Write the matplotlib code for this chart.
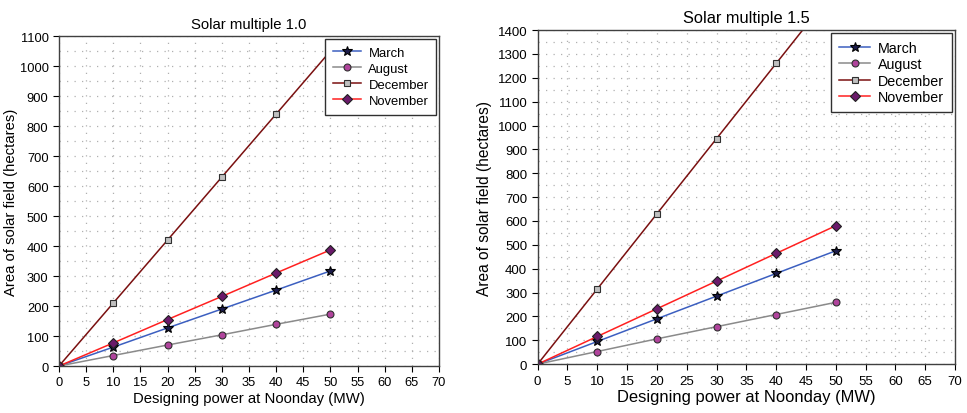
import matplotlib
matplotlib.use("Agg")
import matplotlib.pyplot as plt
from matplotlib.ticker import MultipleLocator

plt.rcParams['font.family'] = ['Liberation Sans', 'DejaVu Sans']

power = [0, 10, 20, 30, 40, 50]

# Solar multiple 1.0
sm10_march = [0, 63, 127, 190, 253, 317]
sm10_august = [0, 35, 70, 104, 139, 173]
sm10_december = [0, 210, 420, 630, 840, 1050]
sm10_november = [0, 77, 155, 232, 310, 387]

# Solar multiple 1.5
sm15_march = [0, 95, 190, 285, 380, 475]
sm15_august = [0, 53, 106, 157, 208, 259]
sm15_december = [0, 315, 630, 945, 1260, 1575]
sm15_november = [0, 116, 232, 348, 464, 580]

titles = ["Solar multiple 1.0", "Solar multiple 1.5"]
series_names = ["March", "August", "December", "November"]

styles = [
    dict(color="#3c5fc0", marker="*", mfc="#1c1c4a", mec="black", ms=7.5, lw=1.1),
    dict(color="#8a8a8a", marker="o", mfc="#b0449c", mec="#303030", ms=5, lw=1.1),
    dict(color="#7a1010", marker="s", mfc="#c0c0c0", mec="#303030", ms=4.8, lw=1.1),
    dict(color="#ff2020", marker="D", mfc="#6a1a6a", mec="#202020", ms=5, lw=1.1),
]

fig = plt.figure(figsize=(9.67, 4.14), dpi=100)
ax1 = fig.add_axes([0.061, 0.1135, 0.393, 0.797])
ax2 = fig.add_axes([0.556, 0.118, 0.4316, 0.807])

configs = [
    (ax1, [sm10_march, sm10_august, sm10_december, sm10_november], 1100,
     dict(title=10.7, xlabel=10.7, ylabel=10.7, tick=9.3, legend=9.4, lspace=0.3, bpad=0.6, ylx=-0.108)),
    (ax2, [sm15_march, sm15_august, sm15_december, sm15_november], 1400,
     dict(title=11.8, xlabel=11.9, ylabel=11.2, tick=9.5, legend=10.3, lspace=0.17, bpad=0.55, ylx=-0.110)),
]

for i, (ax, data, ymax, fs) in enumerate(configs):
    for name, vals, st in zip(series_names, data, styles):
        ax.plot(power, vals, label=name, markeredgewidth=0.8, **st)
    ax.set_xlim(0, 70)
    ax.set_ylim(0, ymax)
    ax.xaxis.set_major_locator(MultipleLocator(5))
    ax.yaxis.set_major_locator(MultipleLocator(100))
    ax.yaxis.set_minor_locator(MultipleLocator(50))
    ax.grid(True, which='major', axis='x', linestyle=(0, (1, 5)), color="#b0b0b0", lw=0.9)
    ax.grid(True, which='both', axis='y', linestyle=(0, (1, 5)), color="#b0b0b0", lw=0.9)
    ax.tick_params(axis='both', which='major', labelsize=fs['tick'], direction='out', length=4, width=0.8)
    ax.tick_params(axis='y', which='minor', length=0)
    for sp in ax.spines.values():
        sp.set_color("#404040")
        sp.set_linewidth(1.0)
    ax.set_title(titles[i], fontsize=fs['title'], pad=6)
    ax.set_xlabel("Designing power at Noonday (MW)", fontsize=fs['xlabel'], labelpad=2)
    ax.set_ylabel("Area of solar field (hectares)", fontsize=fs['ylabel'])
    ax.yaxis.set_label_coords(fs['ylx'], 0.5)
    leg = ax.legend(loc='upper right', fontsize=fs['legend'], frameon=True, fancybox=False,
                    edgecolor="#303030", handlelength=2.2, borderaxespad=0.2,
                    labelspacing=fs['lspace'], handletextpad=0.55, borderpad=fs['bpad'])
    leg.get_frame().set_linewidth(1.0)
    leg.get_frame().set_alpha(1.0)

fig.savefig("out.png", dpi=100)
